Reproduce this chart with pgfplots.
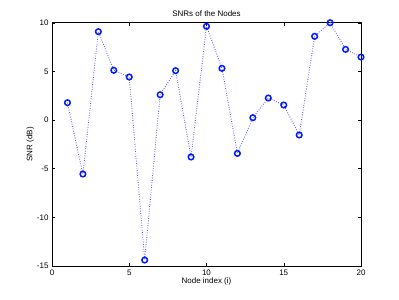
\documentclass[border=0pt]{standalone}
\usepackage{pgfplots}
\pgfplotsset{compat=1.18}
\usepackage{fontspec}
\setmainfont{Liberation Sans}
\begin{document}
\begin{tikzpicture}
\path[use as bounding box] (0,0) rectangle (399bp,300bp);
\begin{axis}[
  at={(52bp,34bp)}, anchor=south west,
  scale only axis, width=309bp, height=243.3bp,
  xmin=0, xmax=20, ymin=-15, ymax=10,
  xtick={0,5,...,20}, ytick={-15,-10,...,10},
  tick align=inside, major tick length=3bp,
  tick style={black, line width=0.4pt},
  axis line style={black, line width=0.6pt},
  ticklabel style={font=\fontsize{8}{9}\selectfont},
  /pgf/number format/assume math mode=true,
  title={SNRs of the Nodes},
  title style={font=\fontsize{8}{9}\selectfont, yshift=-3bp},
  xlabel={Node index (i)},
  ylabel={SNR (dB)},
  label style={font=\fontsize{8}{9}\selectfont},
  xlabel style={yshift=4bp},
  ylabel style={yshift=-4bp},
]
\addplot[color=blue!65, dash pattern=on 0.8pt off 1.6pt, line width=0.9pt,
  mark=o, mark size=2.8bp, mark options={solid, blue!90!cyan, line width=1.5pt}]
coordinates {
(1,1.78) (2,-5.55) (3,9.08) (4,5.11) (5,4.42) (6,-14.39) (7,2.60) (8,5.07)
(9,-3.80) (10,9.63) (11,5.31) (12,-3.43) (13,0.24) (14,2.26) (15,1.54)
(16,-1.54) (17,8.60) (18,10.0) (19,7.26) (20,6.47)
};
\end{axis}
\end{tikzpicture}
\end{document}
